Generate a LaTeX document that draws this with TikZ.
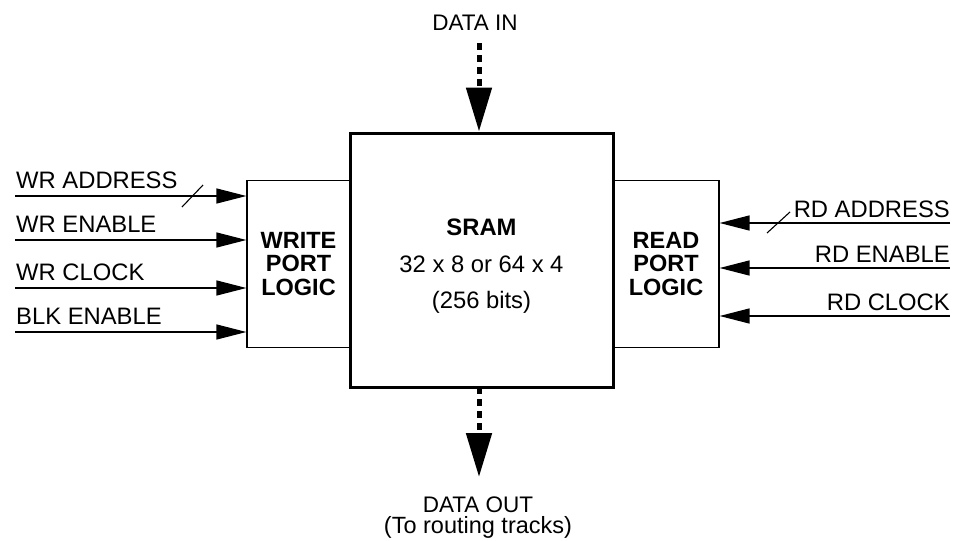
\documentclass[tikz,border=0pt]{standalone}
\usepackage{fontspec}
\setmainfont{Liberation Sans}
\usetikzlibrary{arrows.meta}
\begin{document}
\begin{tikzpicture}[x=1pt,y=-1pt,
  lbl/.style={font=\fontsize{23.8}{25}\selectfont, inner sep=0pt},
  iolbl/.style={font=\fontsize{22.5}{24}\selectfont, inner sep=0pt},
  box/.style={draw, line width=1.2pt, inner sep=0pt},
  portbox/.style={box, align=center, font=\fontsize{23.5}{23.5}\selectfont\bfseries},
  inarrow/.style={line width=1.3pt, -{Triangle[length=30pt,width=15pt]}},
  bus/.style={line width=5pt, dash pattern=on 7pt off 5pt, -{Triangle[length=44pt,width=25pt]}},
  slash/.style={line width=1.1pt},
]
\useasboundingbox (0,0) rectangle (954,541);
% blocks
\node[box, line width=3pt, minimum width=263pt, minimum height=254pt] (sram) at (481.5,260) {};
\node[portbox, minimum width=103pt, minimum height=167pt] (wp) at (298.5,264) {WRITE\\PORT\\LOGIC};
\node[portbox, minimum width=106pt, minimum height=167pt] (rp) at (666,264) {READ\\PORT\\LOGIC};
% SRAM text
\node[lbl, anchor=base, font=\fontsize{23.8}{25}\selectfont\bfseries] (s1) at (481.5,235) {SRAM};
\node[lbl, anchor=base] (s2) at (481.5,272) {32 x 8 or 64 x 4};
\node[lbl, anchor=base] (s3) at (481.5,308) {(256 bits)};
% left inputs
\coordinate (w1) at (15,196);
\coordinate (w2) at (15,240);
\coordinate (w3) at (15,288);
\coordinate (w4) at (15,332);
\node[lbl, anchor=base west] (lw1) at (16,188) {WR ADDRESS};
\node[lbl, anchor=base west] (lw2) at (16,232) {WR ENABLE};
\node[lbl, anchor=base west] (lw3) at (16,280) {WR CLOCK};
\node[lbl, anchor=base west] (lw4) at (16,324) {BLK ENABLE};
\draw[inarrow] (w1) -- (w1 -| wp.west);
\draw[inarrow] (w2) -- (w2 -| wp.west);
\draw[inarrow] (w3) -- (w3 -| wp.west);
\draw[inarrow] (w4) -- (w4 -| wp.west);
\draw[slash] (182,207) -- (203,185);
% right inputs
\coordinate (r1) at (950,223);
\coordinate (r2) at (950,268);
\coordinate (r3) at (950,316);
\node[lbl, anchor=base east] (lr1) at (950,217) {RD ADDRESS};
\node[lbl, anchor=base east] (lr2) at (950,262) {RD ENABLE};
\node[lbl, anchor=base east] (lr3) at (950,310) {RD CLOCK};
\draw[inarrow] (r1) -- (r1 -| rp.east);
\draw[inarrow] (r2) -- (r2 -| rp.east);
\draw[inarrow] (r3) -- (r3 -| rp.east);
\draw[slash] (767,233) -- (790,212);
% data in / out
\node[iolbl, anchor=base] (din) at (475,30) {DATA IN};
\coordinate (dinstart) at (479,43);
\draw[bus] (dinstart) -- (dinstart |- sram.north);
\coordinate (doutstart) at (479,387);
\coordinate (doutend) at (479,477);
\draw[bus] (doutstart) -- (doutend);
\node[iolbl, anchor=base] (dout) at (478,512) {DATA OUT};
\node[iolbl, anchor=base, font=\fontsize{23.5}{24}\selectfont] (dout2) at (478,533) {(To routing tracks)};
\end{tikzpicture}
\end{document}
